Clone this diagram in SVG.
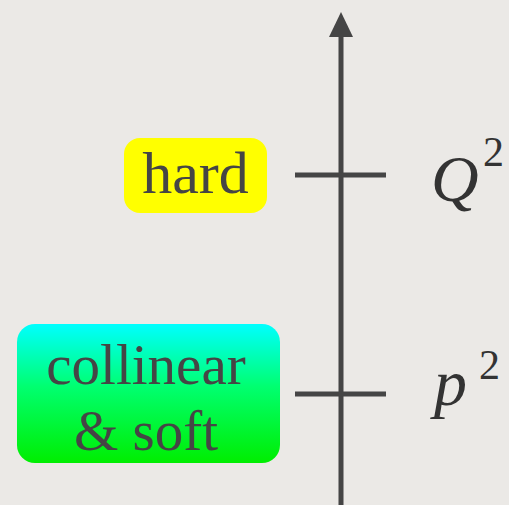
<svg xmlns="http://www.w3.org/2000/svg" width="509" height="505" viewBox="0 0 509 505">
<defs>
<linearGradient id="g" x1="0" y1="0" x2="0" y2="1">
<stop offset="0" stop-color="#00ffff"/>
<stop offset="0.45" stop-color="#00ff70"/>
<stop offset="1" stop-color="#00ee00"/>
</linearGradient>
<style>
.ax{stroke:#454545;stroke-width:5;fill:none}
</style>
</defs>
<rect width="509" height="505" fill="#ebe9e6"/>
<g id="connectors">
<line class="ax" x1="341" y1="505" x2="341" y2="32"/>
<polygon points="341,12 329,37 353,37" fill="#454545"/>
<line class="ax" x1="295" y1="175" x2="386" y2="175"/>
<line class="ax" x1="295" y1="394" x2="386" y2="394"/>
</g>
<g id="hard" font-family="Liberation Serif, serif" fill="#454545" text-anchor="middle">
<rect x="124" y="138" width="143" height="75" rx="16" fill="#ffff00"/>
<text x="195.5" y="193" font-size="60">hard</text>
</g>
<g id="collinear" font-family="Liberation Serif, serif" fill="#454545" text-anchor="middle">
<rect x="17" y="324" width="263" height="139" rx="18" fill="url(#g)"/>
<text x="146" y="384" font-size="57">collinear</text>
<text x="146" y="450" font-size="57">&amp; soft</text>
</g>
<g id="Q2" font-family="Liberation Serif, serif" fill="#333">
<text x="431" y="201" font-size="66" font-style="italic">Q</text>
<text x="483" y="166" font-size="42">2</text>
</g>
<g id="p2" font-family="Liberation Serif, serif" fill="#333">
<text x="434" y="405" font-size="66" font-style="italic">p</text>
<text x="479" y="379" font-size="42">2</text>
</g>
</svg>
